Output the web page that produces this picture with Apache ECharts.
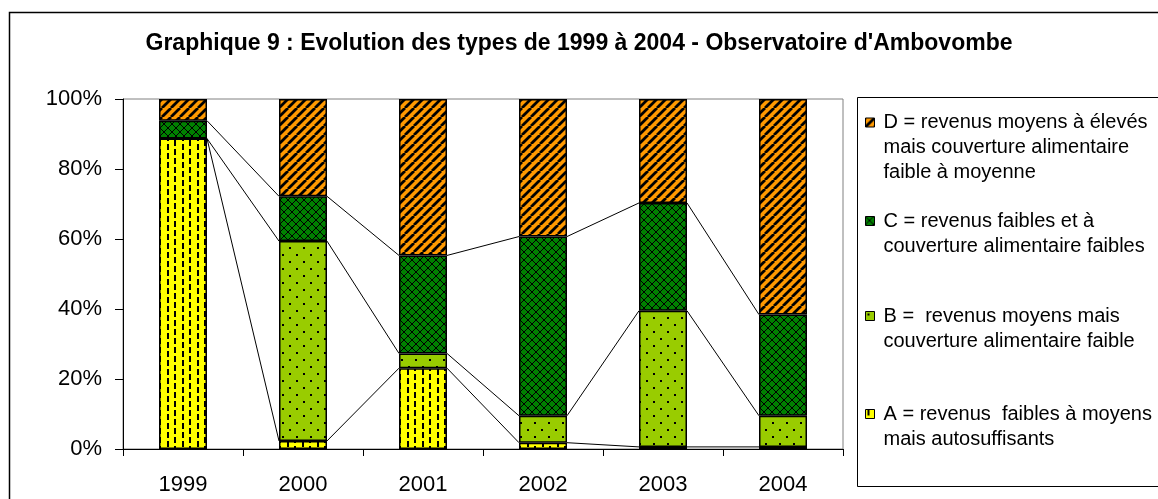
<!DOCTYPE html>
<html>
<head>
<meta charset="utf-8">
<script src="https://cdn.jsdelivr.net/npm/echarts@6/dist/echarts.min.js"></script>
<style>
  html, body { margin: 0; padding: 0; background: #fff; }
  #chart { width: 1158px; height: 499px; }
</style>
</head>
<body>
<div id="chart"></div>
<script>
  // annees et parts (%) de chaque type
  var years = ['1999', '2000', '2001', '2002', '2003', '2004'];
  var typeA = [88.7, 2.3, 23.1, 1.8, 0.6, 0.6];
  var typeB = [0, 57.1, 4.2, 7.7, 38.9, 8.9];
  var typeC = [5.1, 12.8, 28.0, 51.2, 30.8, 28.9];
  var typeD = [6.2, 27.8, 44.7, 39.3, 29.7, 61.6];
  var yTicks = [0, 20, 40, 60, 80, 100];

  var nameA = 'A = revenus  faibles à moyens\nmais autosuffisants';
  var nameB = 'B =  revenus moyens mais\ncouverture alimentaire faible';
  var nameC = 'C = revenus faibles et à\ncouverture alimentaire faibles';
  var nameD = 'D = revenus moyens à élevés\nmais couverture alimentaire\nfaible à moyenne';

  var font = '"Liberation Sans", Arial, sans-serif';

  // motifs de remplissage facon Excel
  function pattern(w, h, bg, draw) {
    var c = document.createElement('canvas');
    c.width = w; c.height = h;
    var ctx = c.getContext('2d');
    ctx.fillStyle = bg;
    ctx.fillRect(0, 0, w, h);
    ctx.fillStyle = '#000';
    ctx.strokeStyle = '#000';
    draw(ctx);
    return { image: c, repeat: 'repeat' };
  }

  var fillA = pattern(15, 9, '#FFFF00', function (ctx) {
    ctx.fillRect(2, 0, 2, 6);
    ctx.fillRect(9, 0, 2, 2);
    ctx.fillRect(9, 5, 2, 4);
  });
  var fillB = pattern(14, 14, '#99CC00', function (ctx) {
    ctx.fillRect(2, 2, 2, 2);
    ctx.fillRect(9, 9, 2, 2);
  });
  var fillC = pattern(8, 8, '#008000', function (ctx) {
    ctx.lineWidth = 1;
    ctx.beginPath();
    ctx.moveTo(0, 0); ctx.lineTo(8, 8);
    ctx.moveTo(0, 8); ctx.lineTo(8, 0);
    ctx.stroke();
  });
  var fillD = pattern(9, 9, '#FF9900', function (ctx) {
    ctx.lineWidth = 2.8;
    ctx.beginPath();
    ctx.moveTo(-9, 9); ctx.lineTo(0, 0);
    ctx.moveTo(0, 9); ctx.lineTo(9, 0);
    ctx.moveTo(9, 9); ctx.lineTo(18, 0);
    ctx.stroke();
  });

  // cumuls pour les lignes de series
  var levels = [[], [], []];
  for (var i = 0; i < years.length; i++) {
    levels[0].push(typeA[i]);
    levels[1].push(typeA[i] + typeB[i]);
    levels[2].push(typeA[i] + typeB[i] + typeC[i]);
  }

  function barSeries(name, data, fill) {
    return {
      name: name,
      type: 'bar',
      stack: 'total',
      barWidth: '40%',
      data: data,
      itemStyle: { color: fill, borderColor: '#000', borderWidth: 1.5 }
    };
  }

  // icone carree calee sur la premiere ligne du texte
  function legendFor(name, top, lines) {
    var h = lines === 3 ? 59 : 34;
    return {
      data: [name],
      left: 865,
      top: top,
      padding: 0,
      orient: 'vertical',
      selectedMode: false,
      icon: 'path://M0,0L9,0L9,9L0,9Z M0,' + h,
      itemWidth: 9,
      itemHeight: h,
      itemStyle: { borderWidth: 1, borderColor: '#000' },
      textStyle: {
        fontFamily: font,
        fontSize: 20,
        lineHeight: 25,
        color: '#000',
        padding: [0, 0, 0, 4]
      }
    };
  }

  var myChart = echarts.init(document.getElementById('chart'));

  myChart.setOption({
    animation: false,
    backgroundColor: '#fff',
    title: {
      text: "Graphique 9 : Evolution des types de 1999 à 2004 - Observatoire d'Ambovombe",
      left: 'center',
      top: 27,
      textStyle: { fontFamily: font, fontSize: 23, fontWeight: 'bold', color: '#000' }
    },
    graphic: [
      {
        type: 'rect',
        shape: { x: 9.5, y: 12.5, width: 1200, height: 600 },
        style: { fill: null, stroke: '#000', lineWidth: 1.5 },
        z: -10
      },
      {
        type: 'rect',
        shape: { x: 857.5, y: 97.5, width: 400, height: 389 },
        style: { fill: null, stroke: '#000', lineWidth: 1 },
        z: -10
      }
    ],
    legend: [
      legendFor(nameD, 110, 3),
      legendFor(nameC, 208.5, 2),
      legendFor(nameB, 303.5, 2),
      legendFor(nameA, 401.5, 2)
    ],
    grid: {
      left: 123,
      right: 315,
      top: 99,
      bottom: 50,
      show: true,
      borderColor: '#808080',
      borderWidth: 1
    },
    xAxis: {
      type: 'category',
      data: years,
      axisLine: { lineStyle: { color: '#000', width: 1 } },
      axisTick: { show: true, length: 7, lineStyle: { color: '#000' } },
      axisLabel: { fontFamily: font, fontSize: 22, color: '#000', margin: 25 }
    },
    yAxis: {
      type: 'value',
      min: yTicks[0],
      max: yTicks[yTicks.length - 1],
      interval: 20,
      splitLine: { show: false },
      axisLine: { show: true, lineStyle: { color: '#000', width: 1 } },
      axisTick: { show: true, length: 8, lineStyle: { color: '#000' } },
      axisLabel: { fontFamily: font, fontSize: 22, color: '#000', margin: 21, formatter: '{value}%' }
    },
    series: [
      barSeries(nameA, typeA, fillA),
      barSeries(nameB, typeB, fillB),
      barSeries(nameC, typeC, fillC),
      barSeries(nameD, typeD, fillD),
      {
        // lignes de series entre les barres
        type: 'custom',
        silent: true,
        data: years.slice(0, years.length - 1).map(function (y, i) { return [i, 0]; }),
        encode: { x: 0, y: 1 },
        renderItem: function (params, api) {
          var i = params.dataIndex;
          var half = api.size([1, 0])[0] * 0.4 / 2;
          var children = levels.map(function (lv) {
            var p1 = api.coord([i, lv[i]]);
            var p2 = api.coord([i + 1, lv[i + 1]]);
            return {
              type: 'line',
              shape: { x1: p1[0] + half, y1: p1[1], x2: p2[0] - half, y2: p2[1] },
              style: { stroke: '#000', lineWidth: 1 }
            };
          });
          return { type: 'group', children: children };
        }
      }
    ]
  });
</script>
</body>
</html>
